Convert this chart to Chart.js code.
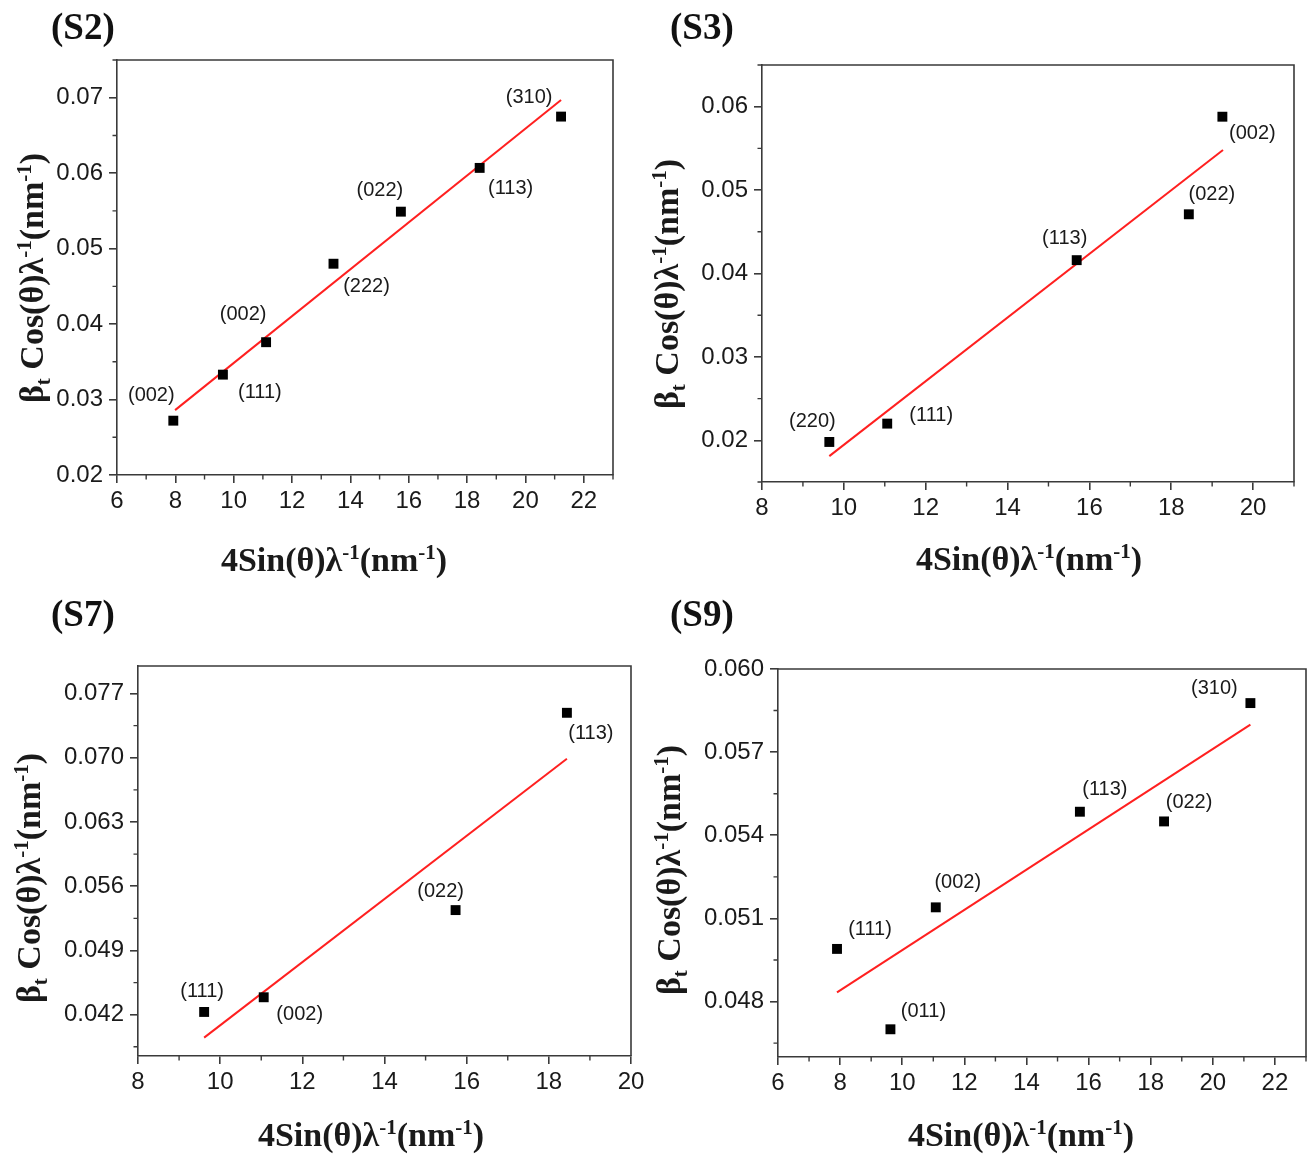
<!DOCTYPE html>
<html>
<head>
<meta charset="utf-8">
<script src="https://cdn.jsdelivr.net/npm/chart.js@4.4.1/dist/chart.umd.min.js"></script>
<style>
  html, body { margin: 0; padding: 0; background: #fff; }
  #wrap { position: relative; width: 1313px; height: 1161px; overflow: hidden; background: #fff; }
  .panel { position: absolute; }
  canvas { display: block; }
</style>
</head>
<body>
<div id="wrap">
  <div class="panel" style="left:0px;top:0px;"><canvas id="c2"></canvas></div>
  <div class="panel" style="left:650px;top:0px;"><canvas id="c3"></canvas></div>
  <div class="panel" style="left:0px;top:590px;"><canvas id="c7"></canvas></div>
  <div class="panel" style="left:650px;top:590px;"><canvas id="c9"></canvas></div>
</div>
<script>
// ---------------- DATA ----------------
// (S2)
const s2Labels = ['(002)', '(111)', '(002)', '(222)', '(022)', '(113)', '(310)'];
const s2X = [7.93, 9.63, 11.11, 13.42, 15.73, 18.43, 21.22];
const s2Y = [0.0272, 0.0333, 0.0376, 0.0480, 0.0549, 0.0607, 0.0675];
const s2FitX = [7.99, 21.22];
const s2FitY = [0.0286, 0.0697];
const s2XTicks = ['6', '8', '10', '12', '14', '16', '18', '20', '22'];
const s2YTicks = ['0.02', '0.03', '0.04', '0.05', '0.06', '0.07'];

// (S3)
const s3Labels = ['(220)', '(111)', '(113)', '(022)', '(002)'];
const s3X = [9.645, 11.06, 15.69, 18.43, 19.25];
const s3Y = [0.0198, 0.0220, 0.0416, 0.0471, 0.0588];
const s3FitX = [9.645, 19.265];
const s3FitY = [0.0181, 0.0548];
const s3XTicks = ['8', '10', '12', '14', '16', '18', '20'];
const s3YTicks = ['0.02', '0.03', '0.04', '0.05', '0.06'];

// (S7)
const s7Labels = ['(111)', '(002)', '(022)', '(113)'];
const s7X = [9.61, 11.06, 15.73, 18.44];
const s7Y = [0.0423, 0.0439, 0.0534, 0.0749];
const s7FitX = [9.61, 18.44];
const s7FitY = [0.0395, 0.0699];
const s7XTicks = ['8', '10', '12', '14', '16', '18', '20'];
const s7YTicks = ['0.042', '0.049', '0.056', '0.063', '0.070', '0.077'];

// (S9)
const s9Labels = ['(111)', '(011)', '(002)', '(113)', '(022)', '(310)'];
const s9X = [7.90, 9.62, 11.08, 15.72, 18.43, 21.21];
const s9Y = [0.0499, 0.0470, 0.0514, 0.05485, 0.0545, 0.05877];
const s9FitX = [7.90, 21.21];
const s9FitY = [0.04833, 0.05799];
const s9XTicks = ['6', '8', '10', '12', '14', '16', '18', '20', '22'];
const s9YTicks = ['0.048', '0.051', '0.054', '0.057', '0.060'];

// ---------------- STYLE / LAYOUT ----------------
const SANS = '"Liberation Sans", Arial, sans-serif';
const SERIF = '"Liberation Serif", "Times New Roman", serif';
const AXIS_COLOR = '#3a3a3a';
const TEXT_COLOR = '#1a1a1a';
const TITLE_SIZE = 34;

const xTitleSegs = [{t: '4Sin(θ)λ'}, {t: '-1', sup: true}, {t: '(nm'}, {t: '-1', sup: true}, {t: ')'}];
const yTitleSegs = [{t: 'β'}, {t: 't', sub: true}, {t: ' Cos(θ)λ'}, {t: '-1', sup: true}, {t: '(nm'}, {t: '-1', sup: true}, {t: ')'}];

const panels = [
  { id: 'c2', w: 650, h: 590, area: {left: 117, top: 60, right: 613, bottom: 475},
    xMin: 6, xMax: 23, yMin: 0.02, yMax: 0.075, title: '(S2)',
    titlePos: [51, 39], xTitlePos: [334, 571], yTitlePos: [43, 278],
    labels: s2Labels, x: s2X, y: s2Y, fitX: s2FitX, fitY: s2FitY, xTicks: s2XTicks, yTicks: s2YTicks,
    offsets: [[-22, -25], [37, 18], [-23, -28], [33, 23], [-21, -21], [31, 21], [-32, -19]] },
  { id: 'c3', w: 663, h: 590, area: {left: 112, top: 65, right: 644, bottom: 482},
    xMin: 8, xMax: 21, yMin: 0.015, yMax: 0.065, title: '(S3)',
    titlePos: [20, 39], xTitlePos: [379, 570], yTitlePos: [28, 284],
    labels: s3Labels, x: s3X, y: s3Y, fitX: s3FitX, fitY: s3FitY, xTicks: s3XTicks, yTicks: s3YTicks,
    offsets: [[-17, -20], [44, -8], [-12, -22], [23, -20], [30, 17]] },
  { id: 'c7', w: 650, h: 571, area: {left: 138, top: 76, right: 631, bottom: 466},
    xMin: 8, xMax: 20, yMin: 0.0375, yMax: 0.080, title: '(S7)',
    titlePos: [51, 36], xTitlePos: [371, 556], yTitlePos: [40, 288],
    labels: s7Labels, x: s7X, y: s7Y, fitX: s7FitX, fitY: s7FitY, xTicks: s7XTicks, yTicks: s7YTicks,
    offsets: [[-2, -20], [36, 17], [-15, -19], [24, 21]] },
  { id: 'c9', w: 663, h: 571, area: {left: 128, top: 79, right: 658, bottom: 467},
    xMin: 6, xMax: 23, yMin: 0.046, yMax: 0.060, title: '(S9)',
    titlePos: [20, 36], xTitlePos: [371, 556], yTitlePos: [30, 280],
    labels: s9Labels, x: s9X, y: s9Y, fitX: s9FitX, fitY: s9FitY, xTicks: s9XTicks, yTicks: s9YTicks,
    offsets: [[33, -19], [33, -18], [22, -25], [25, -22], [25, -19], [-36, -15]] }
];

// ---------------- HELPERS ----------------
function segFont(s, size) {
  const fs = (s.sup || s.sub) ? Math.round(size * 0.62) : size;
  return 'bold ' + fs + 'px ' + SERIF;
}
function drawRich(ctx, segs, x, y, size, rotate) {
  ctx.save();
  ctx.translate(x, y);
  if (rotate) ctx.rotate(-Math.PI / 2);
  let total = 0;
  for (const s of segs) { ctx.font = segFont(s, size); total += ctx.measureText(s.t).width; }
  let cx = -total / 2;
  ctx.textAlign = 'left';
  ctx.textBaseline = 'alphabetic';
  ctx.fillStyle = TEXT_COLOR;
  for (const s of segs) {
    ctx.font = segFont(s, size);
    const dy = s.sup ? -size * 0.36 : (s.sub ? size * 0.2 : 0);
    ctx.fillText(s.t, cx, dy);
    cx += ctx.measureText(s.t).width;
  }
  ctx.restore();
}
function minorValues(majors, min, max) {
  const step = majors[1] - majors[0];
  const eps = step * 1e-6;
  let m = majors[0] - step / 2;
  while (m - step >= min - eps) m -= step;
  const out = [];
  for (; m <= max + eps; m += step) if (m >= min - eps) out.push(m);
  return out;
}

const decorPlugin = {
  id: 'decor',
  afterDraw(chart) {
    const p = chart.options.plugins.decor.panel;
    const ctx = chart.ctx;
    const a = chart.chartArea;
    const xs = chart.scales.x, ys = chart.scales.y;
    ctx.save();
    // top & right frame
    ctx.strokeStyle = AXIS_COLOR;
    ctx.lineWidth = 1.6;
    ctx.beginPath();
    ctx.moveTo(a.left, a.top); ctx.lineTo(a.right, a.top); ctx.lineTo(a.right, a.bottom);
    ctx.stroke();
    // minor ticks
    ctx.lineWidth = 1.4;
    ctx.beginPath();
    for (const v of minorValues(p.xTicks.map(Number), p.xMin, p.xMax)) {
      const px = xs.getPixelForValue(v);
      ctx.moveTo(px, a.bottom); ctx.lineTo(px, a.bottom + 4.5);
    }
    for (const v of minorValues(p.yTicks.map(Number), p.yMin, p.yMax)) {
      const py = ys.getPixelForValue(v);
      ctx.moveTo(a.left, py); ctx.lineTo(a.left - 4.5, py);
    }
    ctx.stroke();
    // point labels
    ctx.font = '20px ' + SANS;
    ctx.fillStyle = TEXT_COLOR;
    ctx.textAlign = 'center';
    ctx.textBaseline = 'middle';
    const meta = chart.getDatasetMeta(0);
    meta.data.forEach((el, i) => {
      const o = p.offsets[i];
      ctx.fillText(p.labels[i], el.x + o[0], el.y + o[1]);
    });
    // panel title
    ctx.font = 'bold 37px ' + SERIF;
    ctx.textAlign = 'left';
    ctx.textBaseline = 'alphabetic';
    ctx.fillStyle = '#111';
    ctx.fillText(p.title, p.titlePos[0], p.titlePos[1]);
    // axis titles
    drawRich(ctx, xTitleSegs, p.xTitlePos[0], p.xTitlePos[1], TITLE_SIZE, false);
    drawRich(ctx, yTitleSegs, p.yTitlePos[0], p.yTitlePos[1], TITLE_SIZE, true);
    ctx.restore();
  }
};

function makeChart(p) {
  const canvas = document.getElementById(p.id);
  canvas.width = p.w; canvas.height = p.h;
  canvas.style.width = p.w + 'px'; canvas.style.height = p.h + 'px';
  const xVals = p.xTicks.map(Number), yVals = p.yTicks.map(Number);
  const gridOpts = { drawOnChartArea: false, drawTicks: true, tickLength: 8, color: AXIS_COLOR, lineWidth: 1.6 };
  const borderOpts = { display: true, color: AXIS_COLOR, width: 1.6 };
  new Chart(canvas, {
    type: 'scatter',
    data: {
      datasets: [
        { data: p.x.map((v, i) => ({x: v, y: p.y[i]})), pointStyle: 'rect', pointRadius: 7,
          backgroundColor: '#000', borderColor: '#000', borderWidth: 0, order: 0 },
        { data: p.fitX.map((v, i) => ({x: v, y: p.fitY[i]})), showLine: true, borderColor: '#ff2020',
          borderWidth: 2, pointRadius: 0, fill: false, order: 1 }
      ]
    },
    options: {
      responsive: false, animation: false, events: [],
      layout: { padding: { left: 0, top: p.area.top, right: p.w - p.area.right, bottom: 0 } },
      plugins: { legend: { display: false }, tooltip: { enabled: false }, decor: { panel: p } },
      scales: {
        x: {
          type: 'linear', min: p.xMin, max: p.xMax,
          afterBuildTicks: s => { s.ticks = xVals.map(v => ({value: v})); },
          afterFit: s => { s.height = p.h - p.area.bottom; },
          ticks: { callback: (v, i) => p.xTicks[i], font: { family: SANS, size: 24 }, color: TEXT_COLOR,
                   padding: 4, maxRotation: 0, autoSkip: false },
          grid: gridOpts, border: borderOpts
        },
        y: {
          type: 'linear', min: p.yMin, max: p.yMax,
          afterBuildTicks: s => { s.ticks = yVals.map(v => ({value: v})); },
          afterFit: s => { s.width = p.area.left; },
          ticks: { callback: (v, i) => p.yTicks[i], font: { family: SANS, size: 24 }, color: TEXT_COLOR,
                   padding: 6, autoSkip: false },
          grid: gridOpts, border: borderOpts
        }
      }
    },
    plugins: [decorPlugin]
  });
}
panels.forEach(makeChart);
</script>
</body>
</html>
